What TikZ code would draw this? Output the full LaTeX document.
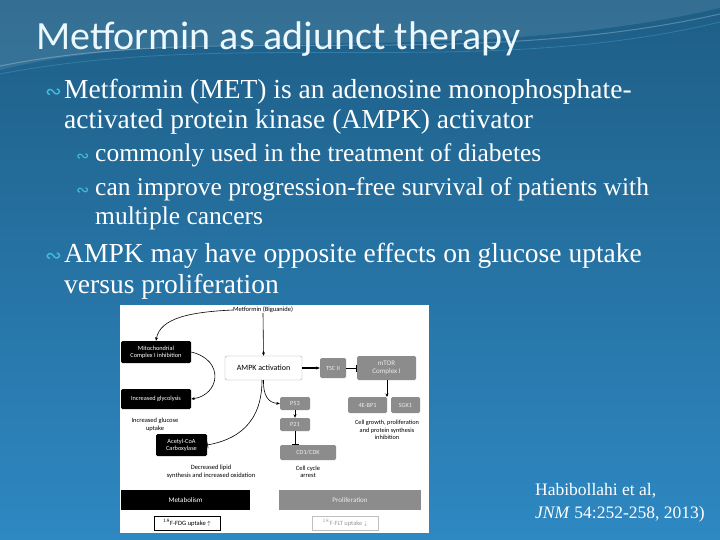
\documentclass[tikz,border=0pt]{standalone}
\usepackage{fontspec}
\setmainfont{Liberation Serif}
\newfontfamily\titlefont{Carlito}
\newfontfamily\figfont{Carlito}
\newfontfamily\symfont{DejaVu Sans}
\usetikzlibrary{arrows.meta}
\definecolor{bgtop}{HTML}{1E5E86}
\definecolor{bgbot}{HTML}{2E88C2}
\definecolor{bul}{HTML}{3FC0E0}
\definecolor{figgray}{HTML}{8C8C8C}
\begin{document}
\begin{tikzpicture}[x=1pt,y=-1pt,
  blk/.style={fill=black,text=white,rounded corners=1.5,font=\figfont\fontsize{6.3}{7.3}\selectfont,align=center,inner sep=0,minimum width=#1},
  gry/.style={fill=figgray,text=white!85!gray,rounded corners=1.5,font=\figfont\fontsize{6.3}{7.3}\selectfont,align=center,inner sep=0},
  ftxt/.style={font=\figfont\fontsize{6.5}{7.5}\selectfont,align=center,inner sep=0},
  arr/.style={-{Stealth[length=3.5pt,width=3pt]},line width=0.6pt},
  inh/.style={-{Bar[width=7pt]},line width=0.6pt},
  bodyt/.style={anchor=base west,inner sep=0,text=white,font=\fontsize{27.5}{30}\selectfont},
  subt/.style={anchor=base west,inner sep=0,text=white,font=\fontsize{25.5}{28}\selectfont},
  bull/.style={anchor=base west,inner sep=0,text=bul,font=\symfont\fontsize{20}{22}\selectfont}]
\useasboundingbox (0,0) rectangle (720,540);
\shade[top color=bgtop,bottom color=bgbot] (0,0) rectangle (720,540);
\fill[white,opacity=0.10] (0,70) .. controls (200,20) and (450,70) .. (720,8) -- (720,0) -- (0,0) -- cycle;
\draw[white,opacity=0.25,line width=1pt] (0,66) .. controls (220,22) and (460,72) .. (720,14);
\draw[cyan!60!white,opacity=0.25,line width=0.8pt] (0,74) .. controls (240,28) and (480,80) .. (720,22);
% title and text
\node[anchor=base west,inner sep=0,text=white!92!cyan,font=\titlefont\fontsize{40}{44}\selectfont] (title) at (36,50) {Metformin as adjunct therapy};
\node[bull] (b1) at (45,99) {∾};
\node[bodyt] (t1) at (64,99) {Metformin (MET) is an adenosine monophosphate-};
\node[bodyt] (t1b) at (64,129) {activated protein kinase (AMPK) activator};
\node[bull,font=\symfont\fontsize{16}{18}\selectfont] (b2) at (76,162) {∾};
\node[subt] (t2) at (95,162) {commonly used in the treatment of diabetes};
\node[bull,font=\symfont\fontsize{16}{18}\selectfont] (b3) at (76,196) {∾};
\node[subt] (t3) at (95,196) {can improve progression-free survival of patients with};
\node[subt] (t3b) at (95,225) {multiple cancers};
\node[bull] (b4) at (45,262) {∾};
\node[bodyt] (t4) at (64,262) {AMPK may have opposite effects on glucose uptake};
\node[bodyt] (t4b) at (64,293) {versus proliferation};
\node[subt,font=\fontsize{17.5}{19}\selectfont] (c1) at (535,495) {Habibollahi et al,};
\node[subt,font=\fontsize{17.5}{19}\selectfont] (c2) at (535,518) {\textit{JNM} 54:252-258, 2013)};
% figure
\fill[white] (120,305) rectangle (429,533);
\node[ftxt] (met) at (263,310) {Metformin (Biguanide)};
\node[blk=70,minimum height=22] (mito) at (156,352) {Mitochondrial\\Complex I inhibition};
\node[blk=70,minimum height=20] (gly) at (156,399) {Increased glycolysis};
\node[ftxt] (glu) at (155,425) {Increased glucose\\uptake};
\node[blk=51,minimum height=22] (acc) at (181.5,445) {Acetyl-CoA\\Carboxylase};
\node[ftxt] (lip) at (211,472) {Decreased lipid\\synthesis and increased oxidation};
\node[draw=gray!70,fill=white,rounded corners=2,minimum width=77,minimum height=24,inner sep=0,font=\figfont\fontsize{8}{9}\selectfont] (ampk) at (263.5,368) {AMPK activation};
\node[gry,minimum width=26,minimum height=20] (tsc) at (333,368) {TSC II};
\node[gry,minimum width=59,minimum height=24,font=\figfont\fontsize{7}{8}\selectfont] (mtor) at (386.5,368) {mTOR\\Complex I};
\node[gry,minimum width=39,minimum height=16] (ebp) at (367.5,405) {4E-BP1};
\node[gry,minimum width=29,minimum height=16] (sgk) at (405.5,405) {SGK1};
\node[ftxt,font=\figfont\fontsize{6.3}{7.2}\selectfont] (grow) at (387,430) {Cell growth, proliferation\\and protein synthesis\\inhibition};
\node[gry,minimum width=30,minimum height=13] (p53) at (295,403.5) {P53};
\node[gry,minimum width=30,minimum height=13] (p21) at (295,424.5) {P21};
\node[gry,minimum width=56,minimum height=15] (cdk) at (308,452.5) {CD1/CDK};
\node[ftxt] (arrest) at (308,472) {Cell cycle\\arrest};
\node[fill=black,text=white,minimum width=129,minimum height=20,inner sep=0,font=\figfont\fontsize{7}{8}\selectfont] (metab) at (185.5,500) {Metabolism};
\node[fill=figgray,text=white!85!gray,minimum width=142,minimum height=20,inner sep=0,font=\figfont\fontsize{7}{8}\selectfont] (prolif) at (350,500) {Proliferation};
\node[draw=black,line width=0.5pt,minimum width=66,minimum height=14,inner sep=0,font=\figfont\fontsize{6.5}{7}\selectfont] (fdg) at (187,523) {$^{18}$F-FDG uptake $\uparrow$};
\node[draw=gray!50,line width=0.5pt,text=gray!80,minimum width=66,minimum height=14,inner sep=0,font=\figfont\fontsize{6.5}{7}\selectfont] (flt) at (345,523) {$^{18}$F-FLT uptake $\downarrow$};
% connectors
\draw[arr] (met.south) -- (ampk.north);
\draw[arr] (met.west) .. controls (190,312) and (160,318) .. (mito.north);
\draw[arr] (mito.east) .. controls (225,360) and (220,395) .. (gly.east);
\draw[arr] (ampk.south) .. controls (263,395) and (268,403) .. (p53.west);
\draw[inh] (262,380) .. controls (262,425) and (235,440) .. (acc.east);
\draw[arr,line width=1.1pt] (ampk.east) -- (tsc.west);
\draw[inh] (tsc.east) -- (mtor.west);
\draw[arr] (387,380) -- (387,397);
\draw[arr] (p53.south) -- (p21.north);
\draw[inh] (p21.south) -- (cdk.north -| p21.south);
\end{tikzpicture}
\end{document}
